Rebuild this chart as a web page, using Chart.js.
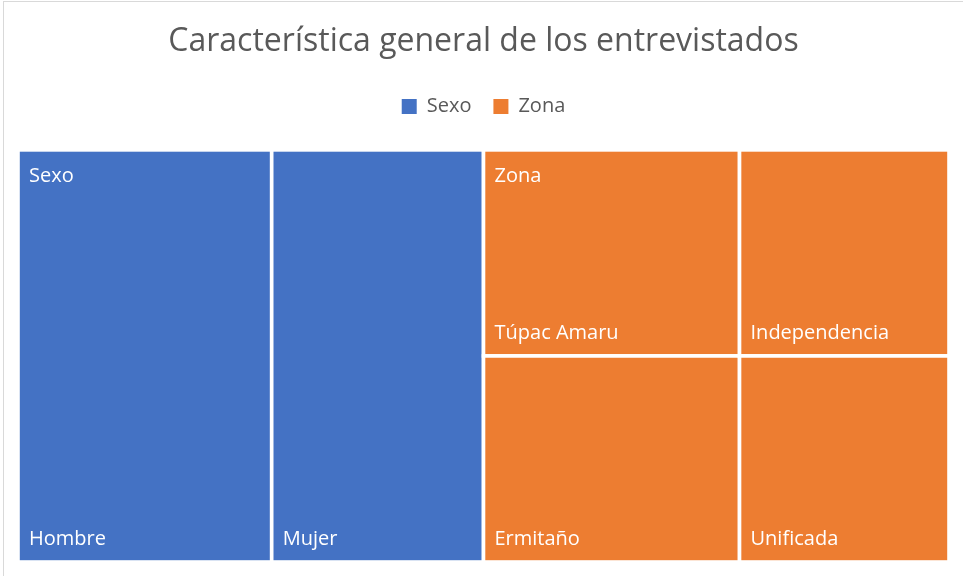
<!DOCTYPE html>
<html>
<head>
<meta charset="utf-8">
<script src="https://cdn.jsdelivr.net/npm/chart.js@4/dist/chart.umd.min.js"></script>
<style>
    html, body { margin: 0; padding: 0; background: #fff; }
    #wrap { position: relative; width: 963px; height: 576px; overflow: hidden; }
    #frame { position: absolute; left: 3px; top: 1px; width: 1000px; height: 700px;
             border-left: 1px solid #d9d9d9; border-top: 1px solid #d9d9d9; pointer-events: none; }
    canvas { position: absolute; left: 0; top: 0; }
</style>
</head>
<body>
<div id="wrap">
    <canvas id="chart" width="963" height="576"></canvas>
    <div id="frame"></div>
</div>
<script>
// ============================================
// TREEMAP - CARACTERISTICA GENERAL
// ============================================

const groupLabels = ['Sexo', 'Zona'];
const groupColors = ['#4472C4', '#ED7D31'];

const sexoLabels = ['Hombre', 'Mujer'];
const sexoValues = [109, 91];

const zonaLabels = ['Túpac Amaru', 'Ermitaño', 'Independencia', 'Unificada'];
const zonaValues = [55, 55, 45, 45];

const childLabels = [sexoLabels, zonaLabels];
const childValues = [sexoValues, zonaValues];

const FONT = "'Open Sans', 'Noto Sans', sans-serif";

const sum = arr => arr.reduce((a, b) => a + b, 0);

// squarified layout, works in pixel-proportional units
function worst(row, side) {
    const s = sum(row);
    const mx = Math.max(...row);
    const mn = Math.min(...row);
    return Math.max(side * side * mx / (s * s), (s * s) / (side * side * mn));
}

function layoutRow(row, r, out) {
    const s = sum(row);
    if (r.w >= r.h) {
        const cw = s / r.h;
        let y = r.y;
        row.forEach(a => { const hh = a / cw; out.push({ x: r.x, y, w: cw, h: hh }); y += hh; });
        return { x: r.x + cw, y: r.y, w: r.w - cw, h: r.h };
    }
    const rh = s / r.w;
    let x = r.x;
    row.forEach(a => { const ww = a / rh; out.push({ x, y: r.y, w: ww, h: rh }); x += ww; });
    return { x: r.x, y: r.y + rh, w: r.w, h: r.h - rh };
}

function squarify(values, rect) {
    const order = values.map((v, i) => i).sort((a, b) => values[b] - values[a]);
    const k = rect.w * rect.h / sum(values);
    const areas = order.map(i => values[i] * k);
    const out = [];
    let r = { ...rect };
    let row = [];
    let i = 0;
    while (i < areas.length) {
        const side = Math.min(r.w, r.h);
        const next = row.concat([areas[i]]);
        if (row.length === 0 || worst(next, side) <= worst(row, side)) {
            row = next;
            i++;
        } else {
            r = layoutRow(row, r, out);
            row = [];
        }
    }
    if (row.length) layoutRow(row, r, out);
    const rects = [];
    order.forEach((idx, n) => { rects[idx] = out[n]; });
    return rects;
}

const treemapPlugin = {
    id: 'treemap',
    afterLayout(chart) {
        // compute rectangles in data units (0..1) keeping the area's aspect ratio
        const { width, height } = chart.chartArea;
        const groupTotals = childValues.map(sum);
        const groupRects = squarify(groupTotals, { x: 0, y: 0, w: width, h: height });
        chart.$tiles = groupRects.map((gr, g) => {
            const kids = squarify(childValues[g], gr);
            return kids.map((k, c) => ({
                x0: k.x / width, x1: (k.x + k.w) / width,
                y0: k.y / height, y1: (k.y + k.h) / height,
                label: childLabels[g][c],
                first: c === 0
            }));
        });
    },
    beforeDatasetsDraw(chart) {
        const { ctx, scales: { x, y } } = chart;
        ctx.save();
        chart.$tiles.forEach((tiles, g) => {
            tiles.forEach(t => {
                const px0 = x.getPixelForValue(t.x0);
                const px1 = x.getPixelForValue(t.x1);
                const py0 = y.getPixelForValue(t.y0);
                const py1 = y.getPixelForValue(t.y1);
                ctx.fillStyle = groupColors[g];
                ctx.fillRect(px0, py0, px1 - px0, py1 - py0);
                ctx.strokeStyle = '#ffffff';
                ctx.lineWidth = 3.6;
                ctx.strokeRect(px0, py0, px1 - px0, py1 - py0);

                ctx.fillStyle = '#ffffff';
                ctx.font = '20px ' + FONT;
                ctx.textBaseline = 'alphabetic';
                ctx.textAlign = 'left';
                if (t.first) {
                    ctx.fillText(groupLabels[g], px0 + 11, py0 + 32);
                }
                ctx.fillText(t.label, px0 + 11, py1 - 17);
            });
        });
        ctx.restore();
    }
};

// extra room under the legend
const legendGap = {
    id: 'legendGap',
    beforeInit(chart) {
        const fit = chart.legend.fit;
        chart.legend.fit = function () {
            fit.call(this);
            this.height += 23.5;
        };
    }
};

new Chart(document.getElementById('chart'), {
    type: 'scatter',
    data: {
        datasets: groupLabels.map((label, g) => ({
            label,
            data: [],
            backgroundColor: groupColors[g],
            borderColor: groupColors[g],
            borderWidth: 0
        }))
    },
    options: {
        responsive: false,
        animation: false,
        layout: { padding: { left: 18, right: 14, bottom: 14, top: 0 } },
        scales: {
            x: { type: 'linear', min: 0, max: 1, display: false },
            y: { type: 'linear', min: 0, max: 1, reverse: true, display: false }
        },
        plugins: {
            title: {
                display: true,
                text: 'Característica general de los entrevistados',
                color: '#595959',
                font: { family: FONT, size: 32, weight: 'normal' },
                padding: { top: 23, bottom: 13 }
            },
            legend: {
                position: 'top',
                labels: {
                    color: '#595959',
                    font: { family: FONT, size: 20 },
                    boxWidth: 15,
                    boxHeight: 15,
                    padding: 22
                }
            },
            tooltip: { enabled: false }
        }
    },
    plugins: [treemapPlugin, legendGap]
});
</script>
</body>
</html>
